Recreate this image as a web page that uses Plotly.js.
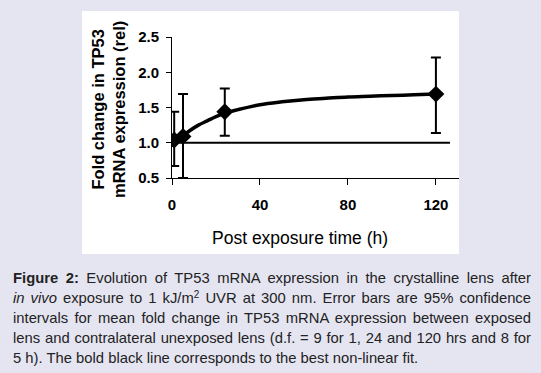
<!DOCTYPE html>
<html>
<head>
<meta charset="utf-8">
<script src="https://cdn.plot.ly/plotly-3.0.1.min.js"></script>
<style>
  html, body { margin: 0; padding: 0; background: #e5e5f1; }
  #wrap { position: relative; width: 541px; height: 373px; overflow: hidden; }
  #chart { position: absolute; left: 0; top: 0; width: 541px; height: 373px; }
  #caption {
    position: absolute; left: 13px; top: 268px; width: 518px;
    font-family: "Liberation Sans", Arial, sans-serif; font-size: 14.8px;
    line-height: 20px; color: #222;
  }
  #caption .ln { display: block; text-align: justify; text-align-last: justify; }
  #caption .ln.last { text-align: left; text-align-last: left; }
  #caption sup { font-size: 10px; line-height: 0; vertical-align: 5px; }
</style>
</head>
<body>
<div id="wrap">
  <div id="chart"></div>
  <div id="caption"><span class="ln"><b>Figure 2:</b> Evolution of TP53 mRNA expression in the crystalline lens after</span><span class="ln"><i>in vivo</i> exposure to 1 kJ/m<sup>2</sup> UVR at 300 nm. Error bars are 95% confidence</span><span class="ln">intervals for mean fold change in TP53 mRNA expression between exposed</span><span class="ln">lens and contralateral unexposed lens (d.f. = 9 for 1, 24 and 120 hrs and 8 for</span><span class="ln last">5 h). The bold black line corresponds to the best non-linear fit.</span></div>
</div>
<script>
// Measured points (hours after exposure) and mean fold change
const timeHours = [1, 5, 24, 120];
const foldChange = [1.04, 1.09, 1.44, 1.69];
const ciUpper = [1.44, 1.69, 1.77, 2.21];
const ciLower = [0.67, 0.50, 1.10, 1.14];

// Best non-linear fit curve
const fitHours = [1, 3, 5, 8, 12, 16, 20, 24, 30, 40, 50, 60, 70, 80, 90, 100, 110, 120];
const fitValues = [1.02, 1.07, 1.10, 1.17, 1.25, 1.31, 1.37, 1.42, 1.47, 1.54, 1.58, 1.61, 1.63, 1.65, 1.66, 1.67, 1.68, 1.69];

// Reference line at no change (fold change = 1)
const refHours = [0, 126.4];
const refValues = [1, 1];

const xTicks = [0, 40, 80, 120];
const yTicks = [0.5, 1.0, 1.5, 2.0, 2.5];

const errPlus = foldChange.map((v, i) => ciUpper[i] - v);
const errMinus = foldChange.map((v, i) => v - ciLower[i]);

const traces = [
  { x: refHours, y: refValues, mode: 'lines', line: { color: '#000', width: 2 }, hoverinfo: 'skip', showlegend: false },
  { x: fitHours, y: fitValues, mode: 'lines', line: { color: '#000', width: 3.5, shape: 'spline' }, showlegend: false },
  { x: timeHours, y: foldChange, mode: 'markers',
    marker: { symbol: 'diamond', size: 13, color: '#000' },
    error_y: { type: 'data', symmetric: false, array: errPlus, arrayminus: errMinus, color: '#000', thickness: 2, width: 5 },
    showlegend: false }
];

const tickFont = { family: '"Liberation Sans", Arial, sans-serif', size: 15, color: '#000', weight: 'bold' };

const layout = {
  width: 541, height: 373,
  margin: { l: 172, r: 82, t: 37, b: 195, pad: 0 },
  paper_bgcolor: 'rgba(0,0,0,0)',
  plot_bgcolor: '#ffffff',
  showlegend: false,
  xaxis: {
    range: [0, 130.5], tickvals: xTicks, ticktext: xTicks.map(String),
    showgrid: false, zeroline: false, showline: true, linecolor: '#000', linewidth: 1,
    ticks: 'outside', ticklen: 6, tickwidth: 1, tickcolor: '#000',
    tickfont: tickFont, ticklabelstandoff: 7
  },
  yaxis: {
    range: [0.5, 2.5], tickvals: yTicks, ticktext: yTicks.map(v => v.toFixed(1)),
    showgrid: false, zeroline: false, showline: true, linecolor: '#000', linewidth: 1,
    ticks: 'outside', ticklen: 5, tickwidth: 1, tickcolor: '#000',
    tickfont: tickFont, ticklabelstandoff: 4
  },
  shapes: [
    { type: 'rect', xref: 'paper', yref: 'paper', layer: 'below',
      x0: (82 - 172) / 287, x1: 1.0, y0: (178 - 254) / 141, y1: (178 - 11) / 141,
      fillcolor: '#ffffff', line: { width: 0 } }
  ],
  annotations: [
    { text: 'Fold change in TP53<br>mRNA expression (rel)', xref: 'paper', yref: 'paper',
      x: (108 - 172) / 287, y: (178 - 110) / 141, xanchor: 'center', yanchor: 'middle',
      textangle: -90, showarrow: false,
      font: { family: '"Liberation Sans", Arial, sans-serif', size: 16.5, color: '#000', weight: 'bold' } },
    { text: 'Post exposure time (h)', xref: 'paper', yref: 'paper',
      x: (300 - 172) / 287, y: (178 - 238) / 141, xanchor: 'center', yanchor: 'middle',
      showarrow: false,
      font: { family: '"Liberation Sans", Arial, sans-serif', size: 17.5, color: '#000' } }
  ]
};

Plotly.newPlot('chart', traces, layout, { displayModeBar: false, staticPlot: true });
</script>
</body>
</html>
